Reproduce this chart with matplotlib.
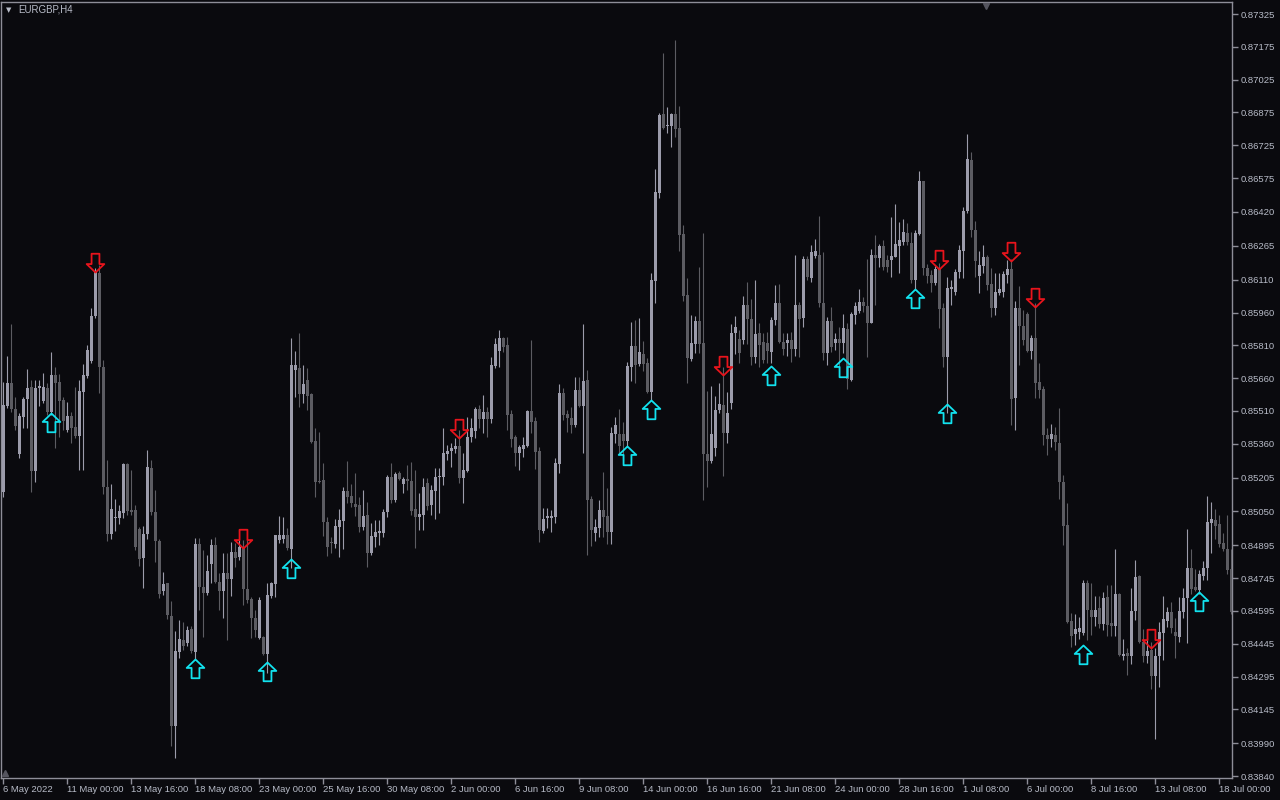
import numpy as np
import matplotlib
matplotlib.use("Agg")
import matplotlib.pyplot as plt
from matplotlib.path import Path

# EURGBP H4, prices in points (x 1e-5)
opens = [
    85139, 85533, 85637, 85519, 85313, 85482, 85564, 85619, 85235, 85615,
    85555, 85615, 85505, 85674, 85642, 85560, 85423, 85487, 85437, 85395,
    85596, 85670, 85738, 85944, 86141, 85711, 85162, 84947, 85020, 85020,
    85043, 85267, 85057, 85057, 84970, 84837, 84947, 85249, 85048, 84915,
    84686, 84723, 84572, 84069, 84407, 84462, 84449, 84512, 84407, 84901,
    84705, 84677, 84810, 84897, 84727, 84686, 84768, 84741, 84865, 84842,
    84888, 84695, 84650, 84563, 84471, 84476, 84398, 84663, 84718, 84919,
    84924, 84942, 84878, 85697, 85706, 85587, 85651, 85587, 85372, 85189,
    85194, 85002, 84910, 84901, 84979, 85006, 85144, 85121, 85084, 85080,
    84979, 85034, 84860, 84933, 84951, 84951, 85048, 85208, 85103, 85226,
    85176, 85199, 85189, 85062, 85025, 85034, 85180, 85080, 85144, 85208,
    85208, 85313, 85327, 85336, 85349, 85203, 85235, 85391, 85418, 85519,
    85473, 85505, 85473, 85715, 85784, 85843, 85811, 85496, 85391, 85317,
    85336, 85349, 85510, 85464, 85327, 84961, 85020, 85020, 85025, 85267,
    85592, 85496, 85478, 85446, 85605, 85533, 85651, 85107, 84951, 84974,
    85057, 85029, 84956, 85405, 85405, 85405, 85372, 85711, 85807, 85724,
    85770, 85729, 85596, 86104, 86506, 86868, 86813, 86813, 86868, 86804,
    86319, 86040, 85747, 85816, 85921, 85820, 85313, 85281, 85340, 85514,
    85537, 85409, 85546, 85866, 85838, 85834, 85994, 85930, 85756, 85866,
    85825, 85820, 85779, 85926, 86003, 85825, 85820, 85834, 85793, 85994,
    85935, 86204, 86118, 86218, 86222, 86003, 85775, 85921, 85820, 85838,
    85820, 85884, 85651, 85948, 85967, 86008, 85989, 85912, 86222, 86209,
    86264, 86200, 86200, 86213, 86264, 86282, 86323, 86277, 86108, 86319,
    86561, 86163, 86131, 86095, 86159, 85980, 85756, 86067, 86053, 86145,
    86241, 86424, 86657, 86337, 86127, 86172, 86213, 86090, 85980, 86049,
    86053, 86131, 86159, 85569, 85980, 85898, 85953, 85784, 85843, 85642,
    85610, 85400, 85382, 85400, 85363, 85185, 84988, 84549, 84490, 84499,
    84494, 84723, 84599, 84567, 84608, 84535, 84659, 84540, 84526, 84673,
    84389, 84403, 84389, 84595, 84755, 84453, 84389, 84417, 84298, 84389,
    84494, 84549, 84590, 84499, 84476, 84590, 84654, 84792, 84705, 84691,
    84755, 84792, 84997, 85011, 84993, 84906, 84878, 84787,
]
highs = [
    85642, 85761, 85907, 85573, 85501, 85573, 85701, 85651, 85651, 85651,
    85683, 85637, 85779, 85711, 85679, 85573, 85551, 85505, 85619, 85651,
    85724, 85811, 85980, 86163, 86177, 85742, 85286, 85176, 85107, 85080,
    85272, 85272, 85240, 85080, 84979, 84984, 85331, 85286, 85148, 84924,
    84773, 84723, 84640, 84503, 84553, 84544, 84526, 84526, 84929, 84929,
    84874, 84851, 84924, 84933, 84768, 84860, 84860, 84910, 84906, 84919,
    84919, 84919, 84659, 84599, 84659, 84481, 84723, 84727, 84942, 85029,
    85025, 84974, 85843, 85784, 85866, 85720, 85706, 85592, 85432, 85414,
    85272, 85025, 84933, 85016, 85062, 85162, 85281, 85176, 85226, 85116,
    85148, 85093, 84997, 85011, 85011, 85062, 85217, 85272, 85231, 85235,
    85208, 85263, 85276, 85240, 85135, 85203, 85203, 85171, 85249, 85249,
    85432, 85354, 85363, 85386, 85423, 85317, 85482, 85478, 85528, 85537,
    85583, 85528, 85756, 85843, 85880, 85848, 85848, 85514, 85400, 85354,
    85391, 85514, 85834, 85482, 85345, 85066, 85066, 85057, 85294, 85633,
    85615, 85514, 85528, 85665, 85665, 85907, 85697, 85121, 85016, 85103,
    85231, 85157, 85437, 85482, 85519, 85459, 85733, 85916, 85926, 85935,
    85829, 85752, 86141, 86616, 86872, 87147, 86900, 86872, 87206, 86904,
    86360, 86118, 85948, 85944, 86168, 86323, 85601, 85624, 85578, 85637,
    85711, 85596, 85907, 85944, 85880, 86035, 86099, 86021, 86108, 85912,
    85866, 85871, 85939, 86085, 86090, 85866, 85866, 85871, 86222, 86008,
    86218, 86218, 86268, 86296, 86401, 86236, 85939, 85985, 85866, 85893,
    85953, 85912, 85962, 86008, 86067, 86031, 86204, 86250, 86314, 86273,
    86291, 86222, 86396, 86456, 86374, 86387, 86369, 86328, 86337, 86607,
    86561, 86181, 86154, 86172, 86186, 86003, 86122, 86108, 86159, 86268,
    86442, 86777, 86694, 86378, 86241, 86268, 86222, 86163, 86140, 86140,
    86150, 86200, 86204, 86012, 86081, 85971, 85962, 85857, 86003, 85729,
    85624, 85432, 85450, 85437, 85523, 85217, 85089, 84586, 84581, 84567,
    84736, 84736, 84723, 84663, 84663, 84681, 84714, 84714, 84878, 84677,
    84467, 84426, 84700, 84828, 84759, 84512, 84471, 84453, 84426, 84544,
    84663, 84613, 84636, 84563, 84659, 84700, 84970, 84878, 84787, 84782,
    84824, 85121, 85093, 85062, 85034, 84951, 85034, 84878,
]
lows = [
    85116, 85523, 85505, 85423, 85294, 85432, 85432, 85139, 85185, 85533,
    85546, 85491, 85491, 85340, 85391, 85423, 85414, 85363, 85386, 85240,
    85240, 85660, 85729, 85935, 85592, 85130, 84915, 84924, 84961, 84993,
    85020, 85034, 85034, 84874, 84801, 84700, 84924, 85034, 84819, 84654,
    84668, 84558, 83978, 83923, 84380, 84417, 84435, 84403, 84371, 84599,
    84476, 84668, 84723, 84723, 84599, 84563, 84462, 84663, 84796, 84828,
    84622, 84631, 84471, 84476, 84467, 84394, 84312, 84654, 84659, 84906,
    84906, 84874, 84792, 85573, 85528, 85546, 85514, 85363, 85116, 85180,
    84938, 84846, 84860, 84883, 84842, 84878, 85089, 85071, 85029, 84956,
    84965, 84796, 84851, 84888, 84897, 84933, 85025, 85089, 85093, 85194,
    85135, 85148, 85034, 84883, 84965, 84965, 85057, 85034, 85016, 85043,
    85171, 85286, 85254, 85317, 85180, 85089, 85231, 85368, 85386, 85432,
    85409, 85391, 85455, 85706, 85711, 85779, 85423, 85345, 85258, 85240,
    85299, 85345, 85409, 85244, 84910, 84951, 84974, 84956, 84997, 85226,
    85468, 85414, 85409, 85437, 85528, 85317, 84851, 84892, 84915, 84933,
    84933, 84901, 84901, 85363, 85317, 85286, 85345, 85647, 85637, 85715,
    85692, 85592, 85560, 86003, 86483, 86799, 86781, 86717, 86763, 86241,
    86012, 85637, 85738, 85775, 85775, 85103, 85162, 85272, 85304, 85501,
    85212, 85363, 85519, 85770, 85729, 85816, 85816, 85720, 85729, 85711,
    85729, 85729, 85729, 85903, 85820, 85765, 85761, 85733, 85761, 85756,
    85893, 86108, 86099, 86209, 85985, 85742, 85720, 85779, 85788, 85706,
    85775, 85610, 85647, 85907, 85958, 85962, 85756, 85912, 85994, 86168,
    86154, 86145, 86122, 86213, 86140, 86268, 86268, 86095, 86062, 86314,
    86131, 86095, 86053, 86085, 85889, 85711, 85501, 85994, 86040, 86118,
    86118, 86415, 86305, 86122, 86049, 86140, 86062, 85939, 85948, 86040,
    86031, 86095, 85446, 85423, 85720, 85811, 85779, 85747, 85569, 85569,
    85354, 85308, 85345, 85331, 85107, 84897, 84540, 84430, 84439, 84467,
    84485, 84462, 84485, 84526, 84517, 84508, 84481, 84481, 84481, 84389,
    84371, 84302, 84353, 84553, 84449, 84362, 84357, 84239, 84010, 84248,
    84371, 84521, 84494, 84380, 84453, 84563, 84449, 84673, 84686, 84673,
    84736, 84736, 84860, 84924, 84888, 84869, 84764, 84581,
]
closes = [
    85537, 85637, 85519, 85441, 85487, 85564, 85615, 85235, 85615, 85624,
    85619, 85505, 85674, 85637, 85555, 85464, 85487, 85432, 85395, 85601,
    85674, 85788, 85944, 86145, 85711, 85162, 84947, 85062, 85025, 85052,
    85267, 85052, 85048, 84888, 84833, 84947, 85254, 85048, 84915, 84673,
    84718, 84577, 84069, 84412, 84467, 84435, 84508, 84412, 84901, 84705,
    84677, 84778, 84897, 84727, 84686, 84768, 84741, 84865, 84837, 84888,
    84695, 84645, 84563, 84508, 84645, 84398, 84668, 84723, 84942, 84942,
    84942, 84883, 85720, 85720, 85587, 85633, 85578, 85368, 85185, 85185,
    85002, 84888, 84906, 84984, 85011, 85144, 85116, 85089, 85071, 84979,
    85029, 84860, 84938, 84956, 84961, 85048, 85208, 85103, 85221, 85199,
    85199, 85189, 85052, 85025, 85039, 85162, 85075, 85148, 85208, 85212,
    85317, 85327, 85340, 85349, 85203, 85240, 85391, 85432, 85519, 85473,
    85505, 85473, 85720, 85816, 85843, 85802, 85491, 85382, 85317, 85345,
    85354, 85510, 85459, 85322, 84965, 85016, 85029, 85029, 85272, 85592,
    85491, 85478, 85446, 85605, 85533, 85647, 85103, 84965, 84979, 85057,
    85025, 84956, 85409, 85446, 85349, 85372, 85715, 85807, 85720, 85779,
    85724, 85596, 86108, 86511, 86863, 86804, 86813, 86868, 86799, 86314,
    86035, 85752, 85820, 85921, 85816, 85313, 85281, 85405, 85514, 85542,
    85409, 85501, 85866, 85893, 85775, 85994, 85930, 85756, 85861, 85811,
    85742, 85784, 85926, 86003, 85825, 85793, 85834, 85793, 85994, 85930,
    86204, 86122, 86236, 86241, 86003, 85775, 85921, 85802, 85838, 85820,
    85889, 85656, 85953, 85989, 86008, 85989, 85912, 86222, 86209, 86264,
    86168, 86168, 86218, 86273, 86291, 86328, 86282, 86108, 86323, 86561,
    86163, 86127, 86095, 86159, 85976, 85756, 86072, 86076, 86145, 86245,
    86424, 86662, 86337, 86195, 86177, 86213, 86085, 85980, 86053, 86067,
    86136, 86159, 85564, 85980, 85898, 85834, 85784, 85843, 85637, 85605,
    85400, 85382, 85405, 85368, 85185, 84984, 84544, 84481, 84512, 84517,
    84723, 84599, 84567, 84599, 84535, 84654, 84531, 84526, 84673, 84394,
    84398, 84389, 84595, 84750, 84453, 84389, 84412, 84298, 84389, 84499,
    84558, 84590, 84517, 84481, 84595, 84654, 84792, 84695, 84691, 84764,
    84792, 85002, 85016, 84984, 84901, 84878, 84782, 84590,
]

# signal arrows: bar index and price of the arrow tip
up_idx = [12, 48, 66, 72, 156, 162, 192, 210, 228, 236, 270, 299]
up_price = [85501, 84376, 84362, 84833, 85349, 85560, 85715, 85752, 86067, 85542, 84439, 84681]
dn_idx = [23, 60, 114, 180, 234, 252, 258, 287]
dn_price = [86145, 84883, 85386, 85674, 86159, 86195, 85985, 84426]

price_ticks = [0.87325, 0.87175, 0.87025, 0.86875, 0.86725, 0.86575, 0.86420, 0.86265,
               0.86110, 0.85960, 0.85810, 0.85660, 0.85510, 0.85360, 0.85205, 0.85050,
               0.84895, 0.84745, 0.84595, 0.84445, 0.84295, 0.84145, 0.83990, 0.83840]
date_idx = list(range(0, 305, 16))
date_labels = ["6 May 2022", "11 May 00:00", "13 May 16:00", "18 May 08:00", "23 May 00:00",
               "25 May 16:00", "30 May 08:00", "2 Jun 00:00", "6 Jun 16:00", "9 Jun 08:00",
               "14 Jun 00:00", "16 Jun 16:00", "21 Jun 08:00", "24 Jun 00:00", "28 Jun 16:00",
               "1 Jul 08:00", "6 Jul 00:00", "8 Jul 16:00", "13 Jul 08:00", "18 Jul 00:00"]

bg = "#0a0a0e"
bull_col = "#9c9cab"
bear_col = "#5c5c62"
axis_col = "#8e8e98"
text_col = "#b8bcc8"
font = "Liberation Sans"


def arrow_path(direction):
    pts = [(0, 0), (0.47, -0.45), (0.21, -0.45), (0.21, -1.0),
           (-0.21, -1.0), (-0.21, -0.45), (-0.47, -0.45), (0, 0)]
    if direction == "down":
        pts = [(x, -y) for x, y in pts]
    codes = [Path.MOVETO] + [Path.LINETO] * 6 + [Path.CLOSEPOLY]
    return Path(pts, codes)


def main():
    o = np.array(opens) / 1e5
    h = np.array(highs) / 1e5
    l = np.array(lows) / 1e5
    c = np.array(closes) / 1e5
    x = np.arange(len(o))

    fig = plt.figure(figsize=(12.8, 8), dpi=100, facecolor=bg)
    ax = fig.add_axes([1 / 1280, 22 / 800, 1231 / 1280, 776 / 800])
    ax.set_facecolor(bg)

    cols = np.where(c >= o, bull_col, bear_col)
    ax.vlines(x, l, h, colors=cols, linewidth=0.8, zorder=2)
    body_lo = np.minimum(o, c)
    body_h = np.maximum(np.abs(c - o), 0.000035)
    ax.bar(x, body_h, bottom=body_lo, width=0.75, color=cols, linewidth=0, zorder=3)

    ax.plot(up_idx, np.array(up_price) / 1e5, linestyle="none", marker=arrow_path("up"),
            markersize=27, markerfacecolor="none", markeredgecolor="#12e2ee",
            markeredgewidth=1.3, zorder=5)
    ax.plot(dn_idx, np.array(dn_price) / 1e5, linestyle="none", marker=arrow_path("down"),
            markersize=27, markerfacecolor="none", markeredgecolor="#e8141c",
            markeredgewidth=1.3, zorder=5)

    ax.set_xlim(-0.58, 307.17)
    ax.set_ylim(0.838312, 0.873800)

    for s in ax.spines.values():
        s.set_color(axis_col)
        s.set_linewidth(1)

    ax.yaxis.tick_right()
    ax.set_yticks(price_ticks)
    ax.set_yticklabels(["%.5f" % v for v in price_ticks])
    ax.set_xticks(date_idx)
    ax.set_xticklabels(date_labels)
    ax.tick_params(axis="both", colors=axis_col, length=4, width=1, direction="out")
    ax.tick_params(axis="y", pad=2)
    ax.tick_params(axis="x", pad=1)
    for lab in ax.get_xticklabels():
        lab.set_ha("left")
        lab.set_color(text_col)
        lab.set_fontsize(6.8)
        lab.set_family(font)
    for lab in ax.get_yticklabels():
        lab.set_color(text_col)
        lab.set_fontsize(6.8)
        lab.set_family(font)

    # chart shift marker at the top edge, corner marker at the bottom left
    ax.plot([0.8], [0.995], marker="v", markersize=5, color="#55555f",
            transform=ax.transAxes, clip_on=False, zorder=6)
    ax.plot([0.003], [0.006], marker="^", markersize=4, color="#55555f",
            transform=ax.transAxes, clip_on=False, zorder=6)

    fig.text(6 / 1280, 1 - 10 / 800, "\u25bc", color=text_col, fontsize=5,
             va="center", ha="left", family="DejaVu Sans")
    fig.text(18 / 1280, 1 - 10 / 800, "EURGBP,H4", color=text_col, fontsize=7,
             va="center", ha="left", family=font)

    fig.savefig("out.png", dpi=100, facecolor=bg)


if __name__ == "__main__":
    main()
